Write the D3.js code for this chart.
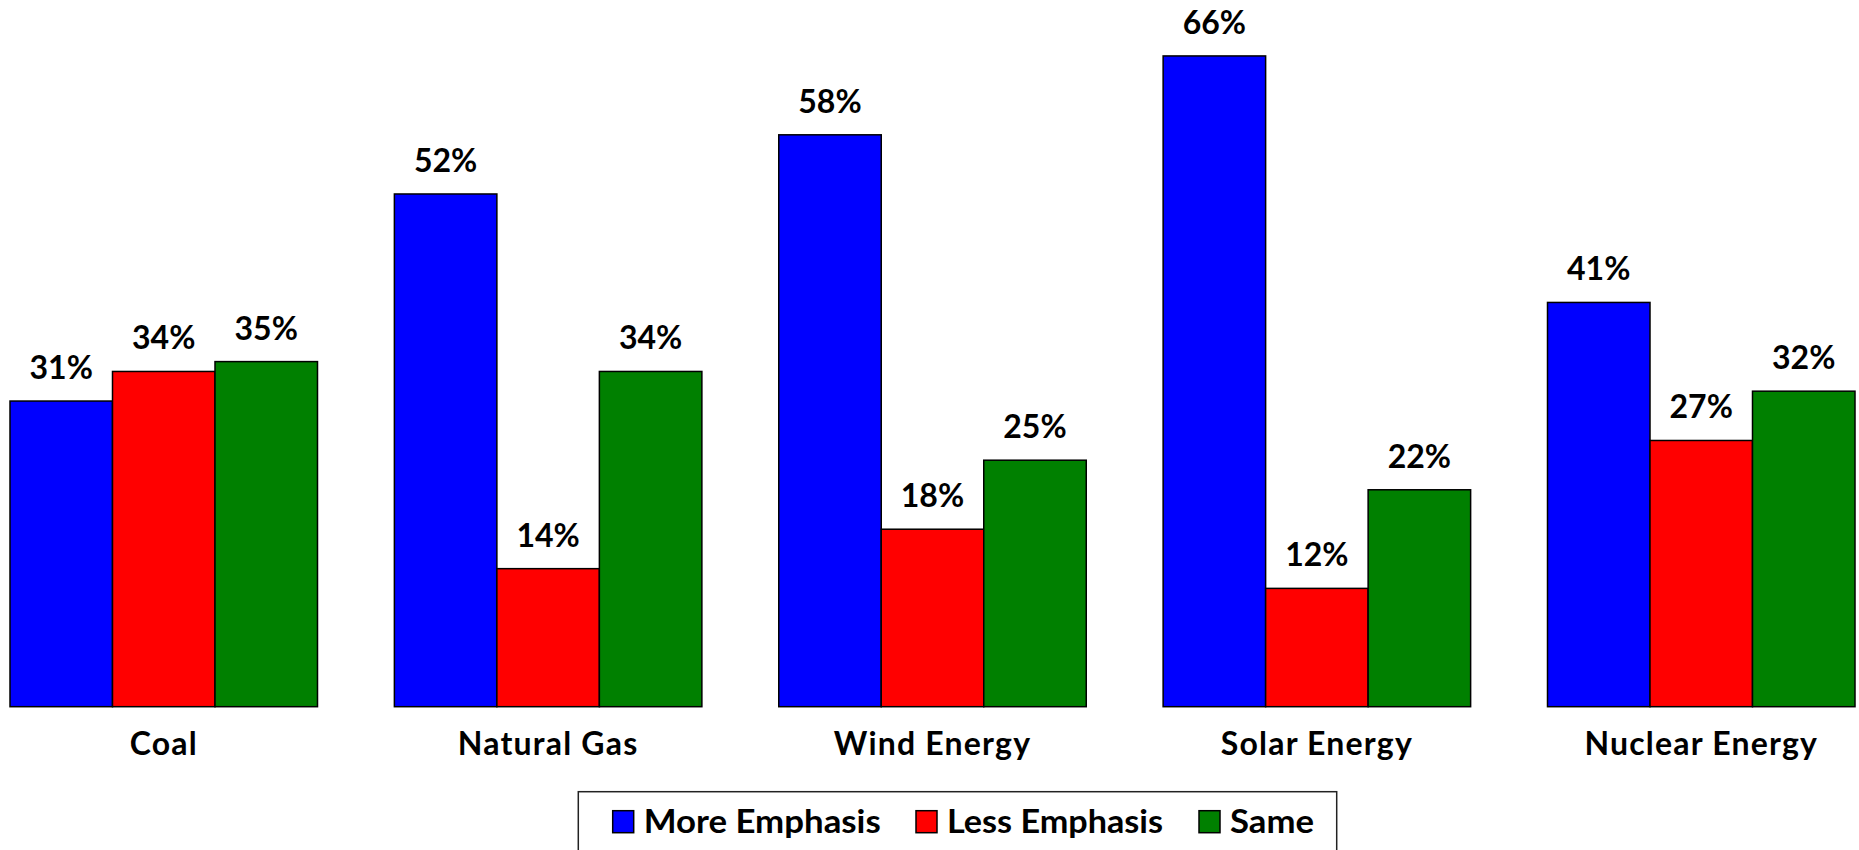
<!DOCTYPE html>
<html>
<head>
<meta charset="utf-8">
<script src="https://cdn.jsdelivr.net/npm/d3@7/dist/d3.min.js"></script>
<style>
  body { margin: 0; background: #fff; }
  text { font-family: Lato, "Open Sans", sans-serif; font-weight: bold; fill: #000; }
</style>
</head>
<body>
<div class="chart"></div>
<script>
const categories = ['Coal', 'Natural Gas', 'Wind Energy', 'Solar Energy', 'Nuclear Energy'];
const seriesNames = ['More Emphasis', 'Less Emphasis', 'Same'];
const moreEmphasis = [31, 52, 58, 66, 41];
const lessEmphasis = [34, 14, 18, 12, 27];
const same = [35, 34, 25, 22, 32];

const width = 1859;
const height = 850;
const colors = ['#0000FF', '#FF0000', '#008000'];
const seriesValues = [moreEmphasis, lessEmphasis, same];

const rows = categories.map((c, i) => ({
  category: c,
  values: seriesNames.map((s, j) => ({ key: s, value: seriesValues[j][i] }))
}));

const svg = d3.select('.chart')
  .append('svg')
  .attr('width', width)
  .attr('height', height);

const x0 = d3.scaleBand()
  .domain(categories)
  .range([10, 1855])
  .paddingInner(0.2)
  .paddingOuter(0);

const x1 = d3.scaleBand()
  .domain(seriesNames)
  .range([0, x0.bandwidth()]);

const y = d3.scaleLinear()
  .domain([0, 70])
  .range([706.7, 16.5]);

const color = d3.scaleOrdinal().domain(seriesNames).range(colors);

const groups = svg.selectAll('g.group')
  .data(rows)
  .enter()
  .append('g')
  .attr('class', 'group')
  .attr('transform', d => 'translate(' + x0(d.category) + ',0)');

groups.selectAll('rect')
  .data(d => d.values)
  .enter()
  .append('rect')
  .attr('x', d => x1(d.key))
  .attr('y', d => y(d.value))
  .attr('width', x1.bandwidth())
  .attr('height', d => y(0) - y(d.value))
  .attr('fill', d => color(d.key))
  .attr('stroke', '#000')
  .attr('stroke-width', 1.5);

groups.selectAll('text.val')
  .data(d => d.values)
  .enter()
  .append('text')
  .attr('class', 'val')
  .attr('x', d => x1(d.key) + x1.bandwidth() / 2)
  .attr('y', d => y(d.value) - 22)
  .attr('text-anchor', 'middle')
  .attr('font-size', 32)
  .text(d => d.value + '%');

// category labels
const xAxis = svg.append('g')
  .attr('transform', 'translate(0,' + y(0) + ')')
  .call(d3.axisBottom(x0).tickSize(0).tickPadding(0));
xAxis.select('.domain').remove();
xAxis.selectAll('text')
  .attr('font-size', 32)
  .attr('dy', 0)
  .attr('y', 48)
  .style('font-family', 'Lato, sans-serif')
  .style('font-weight', 'bold')
  .style('letter-spacing', '1.2px')
  .attr('fill', '#000');

// legend
const legend = svg.append('g');
legend.append('rect')
  .attr('x', 578.3)
  .attr('y', 791.7)
  .attr('width', 758.4)
  .attr('height', 80)
  .attr('fill', '#fff')
  .attr('stroke', '#222')
  .attr('stroke-width', 1.5);

const legendX = [612.7, 916, 1199];
const legendTextW = [237, 216, 84];
const items = legend.selectAll('g.item')
  .data(seriesNames)
  .enter()
  .append('g')
  .attr('class', 'item')
  .attr('transform', (d, i) => 'translate(' + legendX[i] + ',0)');

items.append('rect')
  .attr('x', 0)
  .attr('y', 810.7)
  .attr('width', 21)
  .attr('height', 22)
  .attr('fill', d => color(d))
  .attr('stroke', '#000')
  .attr('stroke-width', 1.5);

items.append('text')
  .attr('x', 31)
  .attr('y', 832.7)
  .attr('font-size', 32)
  .attr('textLength', (d, i) => legendTextW[i])
  .attr('lengthAdjust', 'spacingAndGlyphs')
  .text(d => d);
</script>
</body>
</html>
